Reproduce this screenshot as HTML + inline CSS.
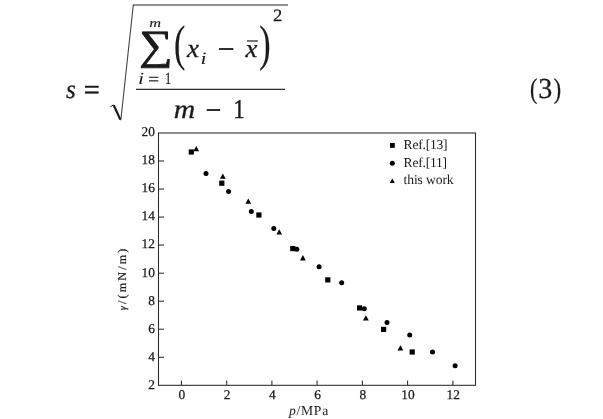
<!DOCTYPE html>
<html><head><meta charset="utf-8"><title>Figure</title>
<style>
html,body{margin:0;padding:0;background:#fff;}
svg{display:block}
text{font-family:"Liberation Serif","DejaVu Serif",serif;fill:#1a1a1a;text-rendering:geometricPrecision}
.it{font-style:italic}
</style></head><body>
<svg width="603" height="419" viewBox="0 0 603 419">
<rect width="603" height="419" fill="#fff"/>

<g id="formula" stroke="#1a1a1a" stroke-width="0.5" stroke-linejoin="round">
<text class="it" transform="translate(66.04,98.09) scale(0.950,1)" font-size="26.41" stroke-width="0.3">s</text>
<text transform="translate(83.64,99.23) scale(0.999,1)" font-size="28.40" stroke-width="0.5">=</text>
<polyline points="120.8,120.2 133.3,5.0" fill="none" stroke="#444" stroke-width="1.1"/>
<polyline points="132.8,5.0 288,5.0" fill="none" stroke="#222" stroke-width="1.15"/>
<polyline points="110.4,106.8 113.4,104.9 114.2,105.8" fill="none" stroke-width="1.0"/>
<line x1="113.8" y1="105.2" x2="120.3" y2="119.6" stroke-width="2.2"/>
<line x1="136" y1="89.35" x2="285" y2="89.35" stroke="#2a2a2a" stroke-width="1.25"/>
<text transform="translate(139.35,58.72) scale(1.124,1)" font-size="41.49" stroke-width="0.9">∑</text>
<text class="it" transform="translate(149.18,26.82) scale(1.319,1)" font-size="12.42" stroke-width="0.15">m</text>
<text class="it" transform="translate(137.88,84.20) scale(1.282,1)" font-size="17.07" stroke-width="0.0">i</text>
<text transform="translate(148.20,85.19) scale(1.087,1)" font-size="17.60" stroke-width="0.3">=</text>
<text transform="translate(165.09,84.12) scale(0.732,1)" font-size="16.89" stroke-width="0.15">1</text>
<text transform="translate(173.91,60.24) scale(0.677,1)" font-size="50.07" stroke-width="0.2">(</text>
<text transform="translate(259.20,60.24) scale(0.684,1)" font-size="50.07" stroke-width="0.2">)</text>
<text class="it" transform="translate(186.88,57.25) scale(1.031,1)" font-size="26.36" stroke-width="0.3">x</text>
<text class="it" transform="translate(200.76,64.33) scale(1.150,1)" font-size="17.44" stroke-width="0.15">i</text>
<text transform="translate(218.11,57.66) scale(1.075,1)" font-size="27.00" stroke-width="0.7">−</text>
<text class="it" transform="translate(245.38,57.05) scale(1.031,1)" font-size="25.93" stroke-width="0.3">x</text>
<line x1="247" y1="41.0" x2="258" y2="41.0" stroke-width="1.2"/>
<text transform="translate(272.91,20.77) scale(1.075,1)" font-size="17.29" stroke-width="0.25">2</text>
<text class="it" transform="translate(173.78,118.45) scale(1.109,1)" font-size="26.74" stroke-width="0.3">m</text>
<text transform="translate(205.79,118.76) scale(1.011,1)" font-size="27.00" stroke-width="0.7">−</text>
<text transform="translate(233.40,118.35) scale(0.817,1)" font-size="27.11" stroke-width="0.5">1</text>
<text transform="translate(529.89,97.66) scale(0.775,1)" font-size="28.12" stroke-width="0.3">(</text>
<text transform="translate(538.21,97.87) scale(0.968,1)" font-size="29.02" stroke-width="0.3">3</text>
<text transform="translate(553.63,97.66) scale(0.789,1)" font-size="28.12" stroke-width="0.3">)</text>
</g>
<g id="plot">
<rect x="158.5" y="133.0" width="317.0" height="252.3" fill="none" stroke="#2a2a2a" stroke-width="1.05"/>
<line x1="181.4" y1="385.3" x2="181.4" y2="380.5" stroke="#2a2a2a" stroke-width="1.05"/>
<text x="181.8" y="398.9" font-size="13.4" text-anchor="middle" stroke="#1a1a1a" stroke-width="0.25">0</text>
<line x1="226.7" y1="385.3" x2="226.7" y2="380.5" stroke="#2a2a2a" stroke-width="1.05"/>
<text x="227.1" y="398.9" font-size="13.4" text-anchor="middle" stroke="#1a1a1a" stroke-width="0.25">2</text>
<line x1="271.9" y1="385.3" x2="271.9" y2="380.5" stroke="#2a2a2a" stroke-width="1.05"/>
<text x="272.3" y="398.9" font-size="13.4" text-anchor="middle" stroke="#1a1a1a" stroke-width="0.25">4</text>
<line x1="317.1" y1="385.3" x2="317.1" y2="380.5" stroke="#2a2a2a" stroke-width="1.05"/>
<text x="317.5" y="398.9" font-size="13.4" text-anchor="middle" stroke="#1a1a1a" stroke-width="0.25">6</text>
<line x1="362.4" y1="385.3" x2="362.4" y2="380.5" stroke="#2a2a2a" stroke-width="1.05"/>
<text x="362.8" y="398.9" font-size="13.4" text-anchor="middle" stroke="#1a1a1a" stroke-width="0.25">8</text>
<line x1="407.6" y1="385.3" x2="407.6" y2="380.5" stroke="#2a2a2a" stroke-width="1.05"/>
<text x="408.0" y="398.9" font-size="13.4" text-anchor="middle" stroke="#1a1a1a" stroke-width="0.25">10</text>
<line x1="452.9" y1="385.3" x2="452.9" y2="380.5" stroke="#2a2a2a" stroke-width="1.05"/>
<text x="453.3" y="398.9" font-size="13.4" text-anchor="middle" stroke="#1a1a1a" stroke-width="0.25">12</text>
<text x="155.0" y="388.6" font-size="13.4" text-anchor="end" stroke="#1a1a1a" stroke-width="0.25">2</text>
<line x1="158.5" y1="357.3" x2="164.0" y2="357.3" stroke="#2a2a2a" stroke-width="1.05"/>
<text x="155.0" y="360.6" font-size="13.4" text-anchor="end" stroke="#1a1a1a" stroke-width="0.25">4</text>
<line x1="158.5" y1="329.2" x2="164.0" y2="329.2" stroke="#2a2a2a" stroke-width="1.05"/>
<text x="155.0" y="332.5" font-size="13.4" text-anchor="end" stroke="#1a1a1a" stroke-width="0.25">6</text>
<line x1="158.5" y1="301.2" x2="164.0" y2="301.2" stroke="#2a2a2a" stroke-width="1.05"/>
<text x="155.0" y="304.5" font-size="13.4" text-anchor="end" stroke="#1a1a1a" stroke-width="0.25">8</text>
<line x1="158.5" y1="273.2" x2="164.0" y2="273.2" stroke="#2a2a2a" stroke-width="1.05"/>
<text x="155.0" y="276.5" font-size="13.4" text-anchor="end" stroke="#1a1a1a" stroke-width="0.25">10</text>
<line x1="158.5" y1="245.1" x2="164.0" y2="245.1" stroke="#2a2a2a" stroke-width="1.05"/>
<text x="155.0" y="248.4" font-size="13.4" text-anchor="end" stroke="#1a1a1a" stroke-width="0.25">12</text>
<line x1="158.5" y1="217.1" x2="164.0" y2="217.1" stroke="#2a2a2a" stroke-width="1.05"/>
<text x="155.0" y="220.4" font-size="13.4" text-anchor="end" stroke="#1a1a1a" stroke-width="0.25">14</text>
<line x1="158.5" y1="189.1" x2="164.0" y2="189.1" stroke="#2a2a2a" stroke-width="1.05"/>
<text x="155.0" y="192.4" font-size="13.4" text-anchor="end" stroke="#1a1a1a" stroke-width="0.25">16</text>
<line x1="158.5" y1="161.0" x2="164.0" y2="161.0" stroke="#2a2a2a" stroke-width="1.05"/>
<text x="155.0" y="164.3" font-size="13.4" text-anchor="end" stroke="#1a1a1a" stroke-width="0.25">18</text>
<text x="155.0" y="135.8" font-size="13.4" text-anchor="end" stroke="#1a1a1a" stroke-width="0.25">20</text>
<rect x="188.7" y="149.4" width="5.2" height="5.2" fill="#000"/>
<rect x="219.2" y="180.6" width="5.2" height="5.2" fill="#000"/>
<rect x="256.3" y="212.4" width="5.2" height="5.2" fill="#000"/>
<rect x="290.2" y="246.0" width="5.2" height="5.2" fill="#000"/>
<rect x="325.2" y="277.3" width="5.2" height="5.2" fill="#000"/>
<rect x="357.0" y="305.3" width="5.2" height="5.2" fill="#000"/>
<rect x="381.0" y="326.8" width="5.2" height="5.2" fill="#000"/>
<rect x="409.6" y="349.4" width="5.2" height="5.2" fill="#000"/>
<circle cx="206.0" cy="173.6" r="2.5" fill="#000"/>
<circle cx="228.6" cy="191.5" r="2.5" fill="#000"/>
<circle cx="251.3" cy="211.5" r="2.5" fill="#000"/>
<circle cx="273.8" cy="228.4" r="2.5" fill="#000"/>
<circle cx="296.8" cy="249.2" r="2.5" fill="#000"/>
<circle cx="319.1" cy="266.8" r="2.5" fill="#000"/>
<circle cx="341.7" cy="282.7" r="2.5" fill="#000"/>
<circle cx="364.3" cy="308.7" r="2.5" fill="#000"/>
<circle cx="387" cy="322.6" r="2.5" fill="#000"/>
<circle cx="409.7" cy="334.9" r="2.5" fill="#000"/>
<circle cx="432.5" cy="352.0" r="2.5" fill="#000"/>
<circle cx="455.1" cy="365.7" r="2.5" fill="#000"/>
<polygon points="196.2,145.9 193.3,151.2 199.1,151.2" fill="#000"/>
<polygon points="222.8,173.5 219.9,178.8 225.7,178.8" fill="#000"/>
<polygon points="248.3,198.5 245.4,203.8 251.2,203.8" fill="#000"/>
<polygon points="279.2,229.3 276.4,234.6 282.1,234.6" fill="#000"/>
<polygon points="302.9,255.1 300.0,260.4 305.8,260.4" fill="#000"/>
<polygon points="365.9,315.2 363.0,320.5 368.8,320.5" fill="#000"/>
<polygon points="400.4,345.2 397.5,350.5 403.3,350.5" fill="#000"/>
<rect x="390" y="143" width="4.8" height="4.8" fill="#000"/>
<circle cx="392.3" cy="163.3" r="2.5" fill="#000"/>
<polygon points="392.3,178.4 389.8,183 394.8,183" fill="#000"/>
<text x="403.6" y="148.9" font-size="13.6" textLength="44" lengthAdjust="spacing">Ref.[13]</text>
<text x="403.6" y="166.6" font-size="13.6" textLength="43.5" lengthAdjust="spacing">Ref.[11]</text>
<text x="403.6" y="183.9" font-size="13.6" textLength="50" lengthAdjust="spacing">this work</text>
<text x="289" y="414.6" font-size="13.6" textLength="39.2" lengthAdjust="spacing"><tspan class="it">p</tspan>/MPa</text>
<text transform="translate(125.9,310.3) rotate(-90)" font-size="12" textLength="61.5" lengthAdjust="spacing" stroke="#1a1a1a" stroke-width="0.2"><tspan class="it" font-size="10.5">γ</tspan>/(mN/m)</text>
</g>
</svg></body></html>
